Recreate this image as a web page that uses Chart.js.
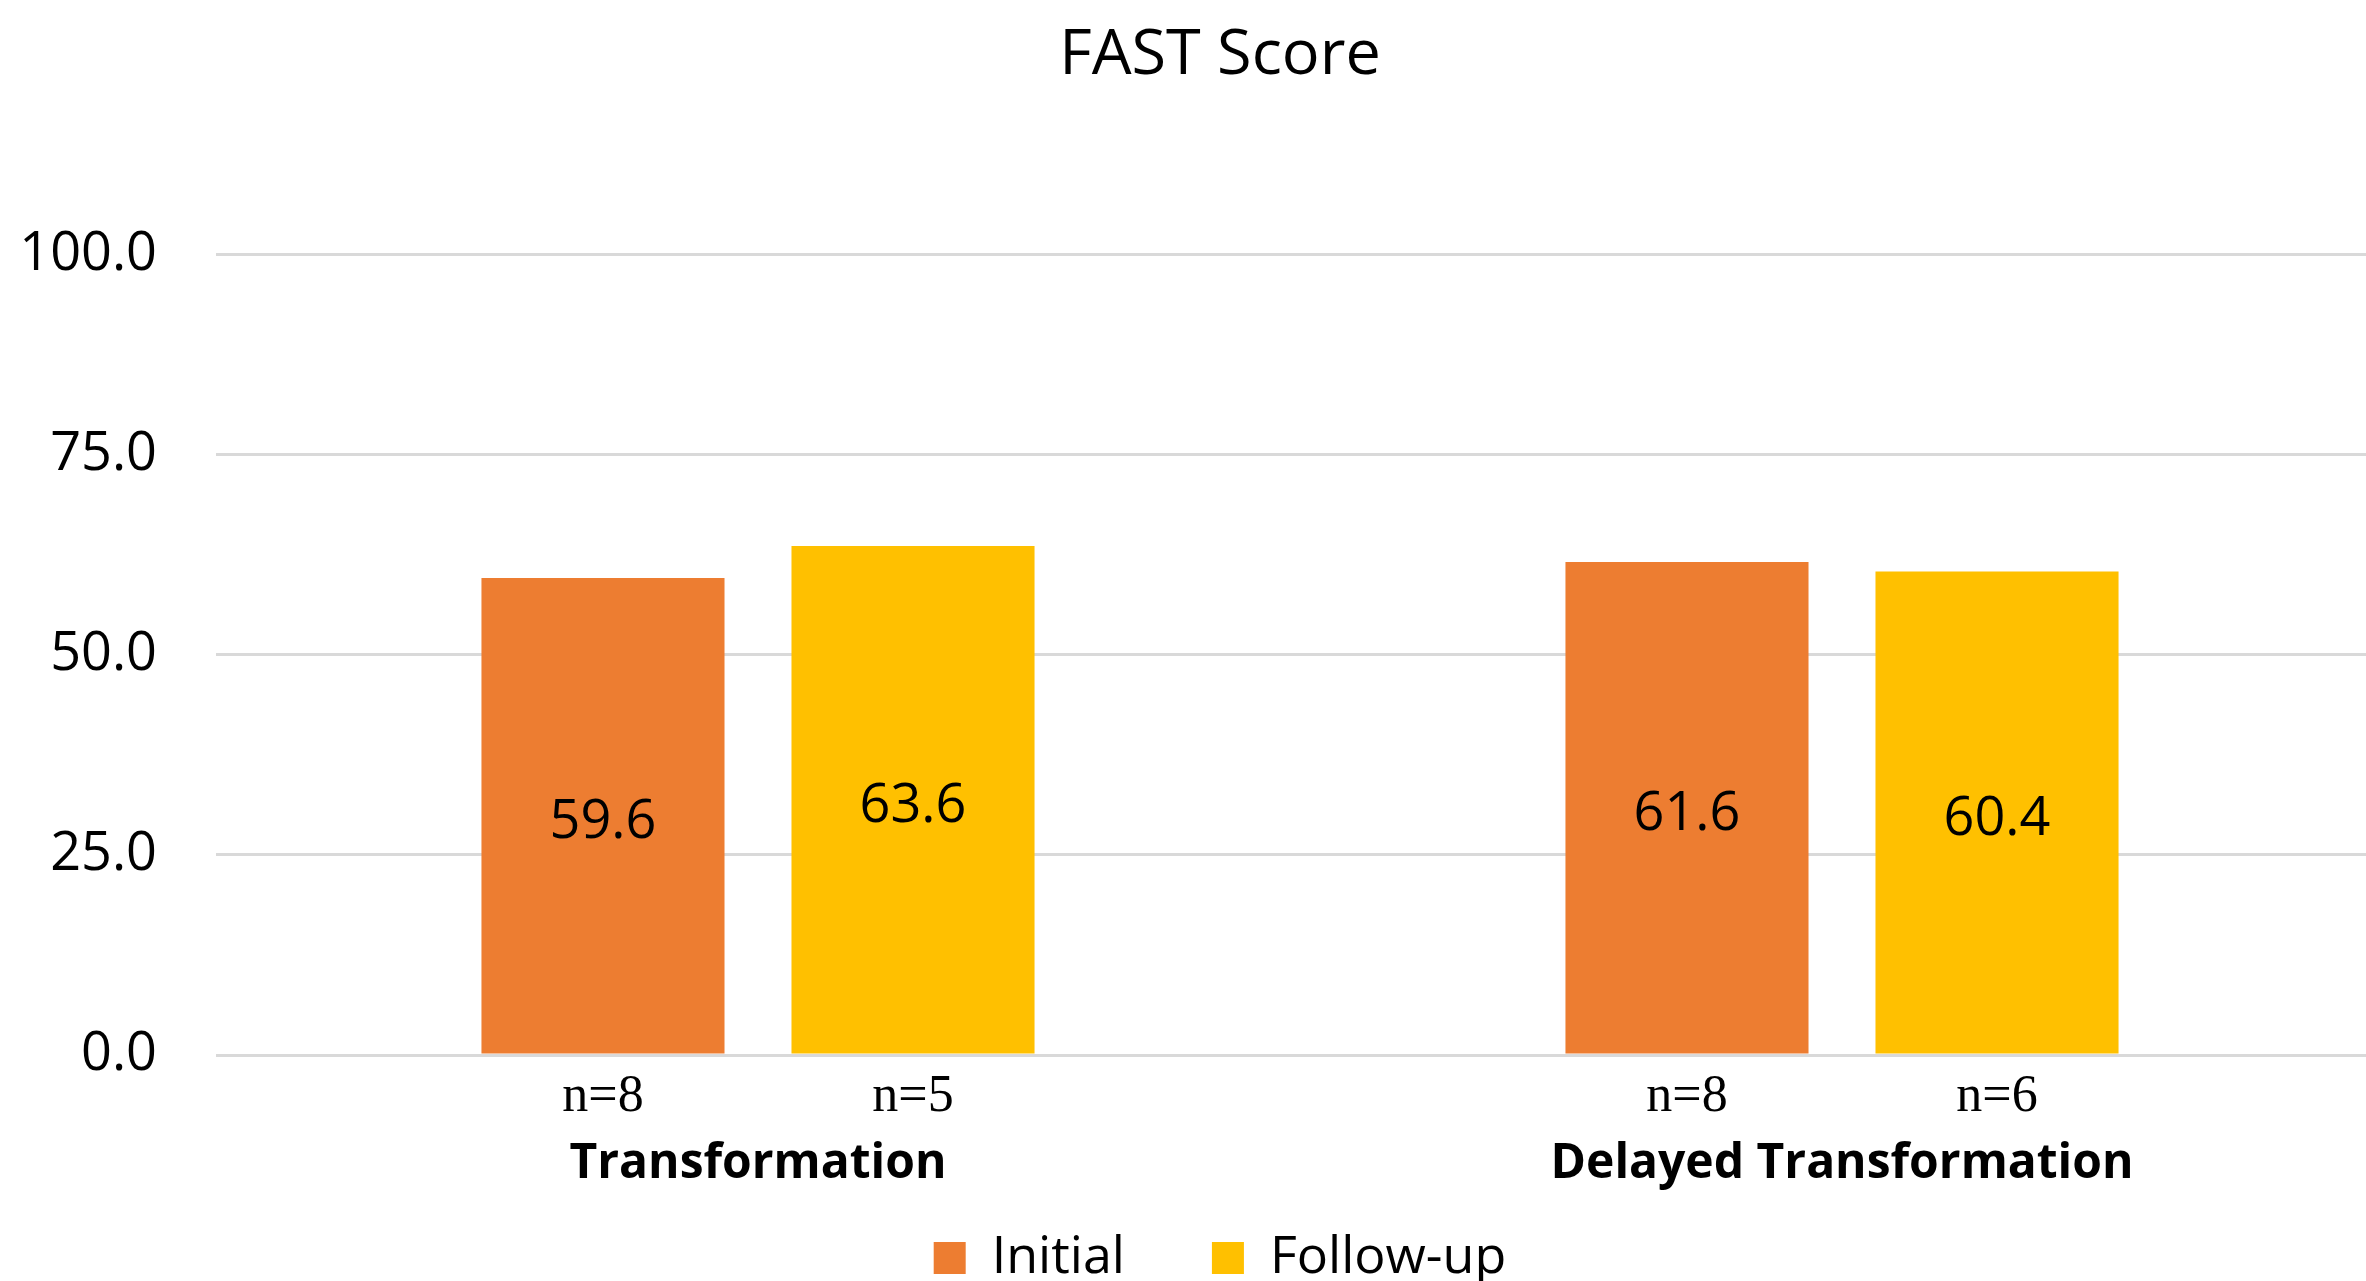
<!DOCTYPE html>
<html>
<head>
<meta charset="utf-8">
<script src="https://cdn.jsdelivr.net/npm/chart.js@4.4.1/dist/chart.umd.min.js"></script>
<style>
  html, body { margin: 0; padding: 0; background: #fff; overflow: hidden; }
  #wrap { width: 2440px; height: 1281px; }
</style>
</head>
<body>
<div id="wrap"><canvas id="myChart" width="2440" height="1281"></canvas></div>
<script>
const categories = ['Transformation', 'Delayed Transformation']
const seriesNames = ['Initial', 'Follow-up']
const initialScores = [59.6, 61.6]
const followUpScores = [63.6, 60.4]
const initialCounts = ['n=8', 'n=8']
const followUpCounts = ['n=5', 'n=6']
const yTicks = [0, 25, 50, 75, 100]
const colors = ['#ED7D31', '#FFC000']

const countLabels = [initialCounts, followUpCounts]

// values inside the bars, n= under each bar, group name under each pair
const barLabels = {
  id: 'barLabels',
  afterDatasetsDraw(chart) {
    const ctx = chart.ctx
    const zero = chart.scales.y.getPixelForValue(0)
    ctx.save()
    ctx.textAlign = 'center'
    ctx.textBaseline = 'middle'
    ctx.fillStyle = '#000'
    chart.data.datasets.forEach((ds, i) => {
      chart.getDatasetMeta(i).data.forEach((bar, j) => {
        ctx.font = '54px "Open Sans"'
        ctx.fillText(ds.data[j].toFixed(1), bar.x, (bar.y + bar.base) / 2 + 7)
        ctx.font = '52px "Liberation Serif"'
        ctx.fillText(countLabels[i][j], bar.x, zero + 42)
      })
    })
    ctx.font = 'bold 48px "Open Sans"'
    chart.data.labels.forEach((name, i) => {
      ctx.fillText(name, chart.scales.x.getPixelForTick(i), zero + 109)
    })
    ctx.restore()
  }
}

const ctx = document.getElementById('myChart')
new Chart(ctx, {
  type: 'bar',
  data: {
    labels: categories,
    datasets: [{
      label: seriesNames[0],
      data: initialScores,
      backgroundColor: colors[0]
    }, {
      label: seriesNames[1],
      data: followUpScores,
      backgroundColor: colors[1]
    }]
  },
  options: {
    responsive: false,
    animation: false,
    devicePixelRatio: 1,
    categoryPercentage: 0.572,
    barPercentage: 0.784,
    layout: { padding: 0 },
    plugins: {
      title: {
        display: true,
        text: 'FAST Score',
        color: '#000',
        font: { family: 'Open Sans', size: 63, weight: 'normal' },
        padding: { top: 18, bottom: 161 }
      },
      legend: {
        position: 'bottom',
        maxHeight: 136,
        labels: {
          color: '#000',
          font: { family: 'Open Sans', size: 52 },
          boxWidth: 32,
          boxHeight: 32,
          padding: 87
        }
      },
      tooltip: { enabled: false }
    },
    scales: {
      x: {
        grid: { display: false },
        border: { display: false },
        ticks: { display: false },
        afterFit: s => { s.height = 90 }
      },
      y: {
        min: 0,
        max: 100,
        grid: { color: '#D9D9D9', lineWidth: 3, drawTicks: false },
        border: { display: false },
        afterBuildTicks: s => { s.ticks = yTicks.map(v => ({ value: v })) },
        ticks: {
          color: '#000',
          font: { family: 'Open Sans', size: 54 },
          padding: 59,
          callback: v => v.toFixed(1)
        },
        afterFit: s => { s.width = 216 }
      },
      // empty right margin, the plot runs past the visible edge
      yRight: {
        position: 'right',
        display: true,
        grid: { display: false },
        border: { display: false },
        ticks: { display: false },
        afterFit: s => { s.width = 56 }
      }
    }
  },
  plugins: [barLabels]
})
</script>
</body>
</html>
